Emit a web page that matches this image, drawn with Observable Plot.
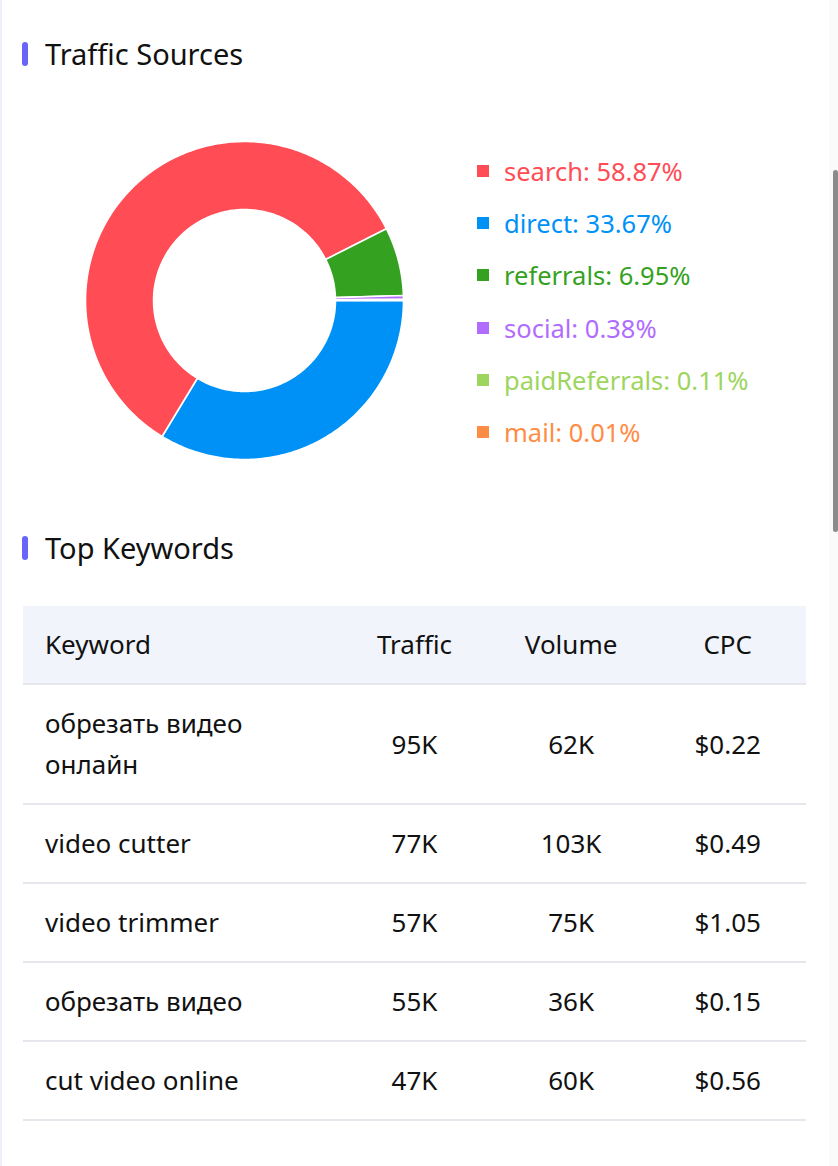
<!DOCTYPE html>
<html><head><meta charset="utf-8">
<script src="https://cdn.jsdelivr.net/npm/d3@7"></script>
<script src="https://cdn.jsdelivr.net/npm/@observablehq/plot@0.6"></script>
<style>
body{margin:0;background:#fff;font-family:"Noto Sans",sans-serif;color:#111;}
#page{position:relative;width:838px;height:1166px;overflow:hidden;background:#fff;}
#leftline{position:absolute;left:0;top:0;width:2px;height:1166px;background:#eceef9;}
.title{position:absolute;left:22px;height:36px;display:flex;align-items:center;font-size:29px;line-height:36px;color:#111;}
.title .bar{width:6px;height:24px;border-radius:3px;background:#6a64f8;margin-right:17px;}
#donut{position:absolute;left:64px;top:120px;}
#legend{position:absolute;left:477px;top:145px;}
.lg{height:52.2px;display:flex;align-items:center;font-size:25.5px;}
.lg .sw{width:12px;height:12px;margin-right:15px;}
#tbl{position:absolute;left:23px;top:606px;width:783px;border-collapse:collapse;table-layout:fixed;font-size:26px;line-height:41px;color:#111;}
#tbl th{font-weight:normal;background:#f1f4fb;padding:18px 0;border-bottom:2px solid #e6e7ec;}
#tbl td{padding:18px 0;border-bottom:2px solid #e6e7ec;}
#tbl .c{text-align:center;}
#tbl .k{text-align:left;padding-left:22px;padding-right:20px;}
#track{position:absolute;left:829px;top:0;width:9px;height:1166px;background:#fafafa;}
#thumb{position:absolute;left:833px;top:170px;width:5px;height:362px;border-radius:3px;background:#8b8b8b;}
</style></head><body>
<div id="page">
  <div id="leftline"></div>
  <div id="track"></div><div id="thumb"></div>
  <div class="title" style="top:36px"><div class="bar"></div>Traffic Sources</div>
  <div id="donut"></div>
  <div id="legend"></div>
  <div class="title" style="top:530px"><div class="bar"></div>Top Keywords</div>
  <table id="tbl"></table>
</div>
<script>
// ---- data ----
const sources = ["search", "direct", "referrals", "social", "paidReferrals", "mail"];
const shares = [58.87, 33.67, 6.95, 0.38, 0.11, 0.01];
const colors = ["#ff4c55", "#0091f7", "#35a120", "#b06cff", "#9dd55e", "#ff8c45"];
const sliceOrder = ["direct", "search", "referrals", "social", "paidReferrals", "mail"];

const columns = ["Keyword", "Traffic", "Volume", "CPC"];
const keywords = ["обрезать видео онлайн", "video cutter", "video trimmer", "обрезать видео", "cut video online"];
const traffic = ["95K", "77K", "57K", "55K", "47K"];
const volume = ["62K", "103K", "75K", "36K", "60K"];
const cpc = ["$0.22", "$0.49", "$1.05", "$0.15", "$0.56"];

// ---- donut ----
const INNER = 0.572;
const total = d3.sum(shares);
let acc = 0;
const pts = [];
for (const name of sliceOrder) {
  const v = shares[sources.indexOf(name)];
  const a0 = acc / total * 2 * Math.PI, a1 = (acc + v) / total * 2 * Math.PI;
  acc += v;
  const n = Math.max(2, Math.ceil((a1 - a0) / (2 * Math.PI) * 360));
  for (let i = 0; i <= n; i++) { const a = a0 + (a1 - a0) * i / n; pts.push({name, x: Math.cos(a), y: -Math.sin(a)}); }
  for (let i = n; i >= 0; i--) { const a = a0 + (a1 - a0) * i / n; pts.push({name, x: INNER * Math.cos(a), y: -INNER * Math.sin(a)}); }
}
const chart = Plot.plot({
  width: 360, height: 360, margin: 21,
  x: {domain: [-1, 1], axis: null},
  y: {domain: [-1, 1], axis: null},
  color: {domain: sources, range: colors},
  marks: [
    Plot.line(pts, {x: "x", y: "y", z: "name", fill: "name", stroke: "white", strokeWidth: 1.6, curve: "linear-closed"})
  ]
});
document.getElementById("donut").appendChild(chart);

// ---- legend ----
const lg = document.getElementById("legend");
sources.forEach((s, i) => {
  const row = document.createElement("div");
  row.className = "lg";
  row.style.color = colors[i];
  row.innerHTML = `<div class="sw" style="background:${colors[i]}"></div><span>${s}: ${shares[i].toFixed(2)}%</span>`;
  lg.appendChild(row);
});

// ---- table ----
const tbl = document.getElementById("tbl");
const colg = document.createElement("colgroup");
colg.innerHTML = `<col style="width:40%"><col style="width:20%"><col style="width:20%"><col style="width:20%">`;
tbl.appendChild(colg);
const thead = document.createElement("tr");
columns.forEach((c, i) => {
  const th = document.createElement("th");
  th.className = i === 0 ? "k" : "c";
  th.textContent = c;
  thead.appendChild(th);
});
tbl.appendChild(thead);
keywords.forEach((k, i) => {
  const tr = document.createElement("tr");
  [k, traffic[i], volume[i], cpc[i]].forEach((v, j) => {
    const td = document.createElement("td");
    td.className = j === 0 ? "k" : "c";
    td.textContent = v;
    tr.appendChild(td);
  });
  tbl.appendChild(tr);
});
</script>
</body></html>
